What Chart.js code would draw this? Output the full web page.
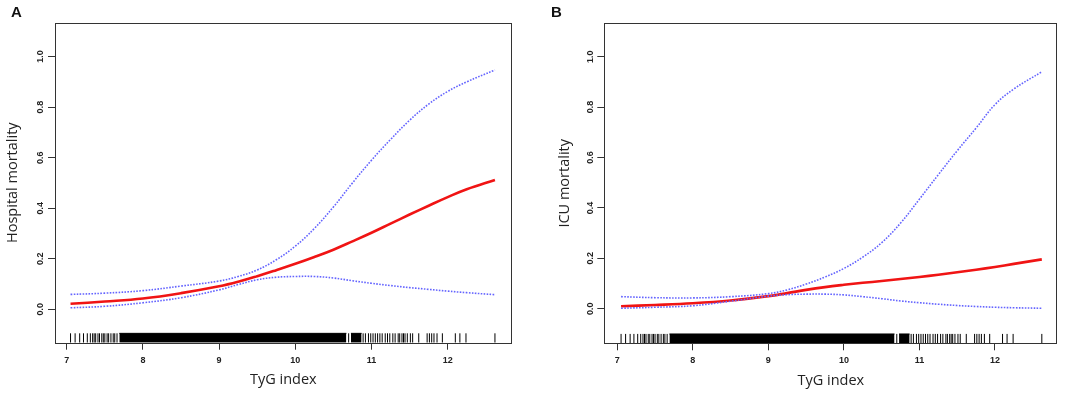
<!DOCTYPE html>
<html>
<head>
<meta charset="utf-8">
<script src="https://cdn.jsdelivr.net/npm/chart.js@4.4.1/dist/chart.umd.min.js"></script>
<style>
html,body{margin:0;padding:0;background:#fff;width:1084px;height:394px;overflow:hidden;}
.panel{position:absolute;top:0;width:542px;height:394px;}
.lab{position:absolute;font:bold 15px "Liberation Sans",Arial,sans-serif;line-height:1;color:#111;}
</style>
</head>
<body>
<div class="panel" style="left:0"><canvas id="cA" width="542" height="394"></canvas></div>
<div class="panel" style="left:542px"><canvas id="cB" width="542" height="394"></canvas></div>
<div class="lab" style="left:11px;top:4px">A</div>
<div class="lab" style="left:551px;top:4px">B</div>
<script>
// ---- data ----
const tygGrid   = [7.05, 7.5, 8, 8.5, 9, 9.25, 9.5, 9.75, 10, 10.25, 10.5, 10.75, 11, 11.25, 11.5, 11.75, 12, 12.25, 12.62];
const hospFit   = [0.022,0.031,0.043,0.064,0.091,0.109,0.131,0.155,0.180,0.207,0.236,0.269,0.303,0.339,0.375,0.410,0.444,0.475,0.512];
const hospUpper = [0.059,0.064,0.074,0.092,0.112,0.130,0.156,0.196,0.250,0.320,0.405,0.500,0.590,0.672,0.748,0.812,0.862,0.900,0.947];
const hospLower = [0.006,0.012,0.026,0.046,0.077,0.098,0.117,0.127,0.130,0.130,0.124,0.113,0.103,0.094,0.086,0.079,0.072,0.066,0.058];
const icuFit    = [0.010,0.015,0.022,0.033,0.050,0.062,0.075,0.086,0.095,0.103,0.110,0.118,0.126,0.135,0.145,0.155,0.166,0.178,0.196];
const icuUpper  = [0.048,0.044,0.043,0.048,0.060,0.075,0.098,0.126,0.160,0.205,0.262,0.340,0.435,0.532,0.627,0.717,0.810,0.872,0.940];
const icuLower  = [0.002,0.006,0.012,0.030,0.050,0.056,0.058,0.058,0.055,0.048,0.040,0.031,0.024,0.018,0.013,0.009,0.006,0.004,0.002];
// rug: individual observed TyG values and densely-packed stretches
const rugTicks  = [7.05,7.11,7.17,7.22,7.27,7.31,7.34,7.36,7.38,7.41,7.43,7.46,7.48,7.50,7.53,7.55,7.58,7.61,7.63,7.66,
                   10.70,10.89,10.92,10.96,10.99,11.02,11.05,11.08,11.11,11.14,11.18,11.21,11.24,11.28,11.31,
                   11.35,11.37,11.40,11.42,11.44,11.47,11.51,11.54,11.62,11.73,11.76,11.79,11.82,11.86,11.93,
                   12.10,12.16,12.24,12.62];
const rugDense  = [[7.69,10.67],[10.73,10.87]];
const xTicks = [7, 8, 9, 10, 11, 12];
const yTicks = [0, 0.2, 0.4, 0.6, 0.8, 1.0];
const xTitle = 'TyG index';
const yTitleA = 'Hospital mortality';
const yTitleB = 'ICU mortality';

function pts(xs, ys){ return xs.map((x,i)=>({x:x, y:ys[i]})); }

const boxPlugin = {
  id:'rbox',
  afterDraw(chart){
    const a = chart.chartArea, ctx = chart.ctx;
    ctx.save();
    ctx.strokeStyle = '#333'; ctx.lineWidth = 1;
    ctx.strokeRect(Math.round(a.left)+0.5, Math.round(a.top)+0.5, Math.round(a.right-a.left)-1, Math.round(a.bottom-a.top));
    // rotated y tick labels (R style)
    const ys = chart.scales.y;
    ctx.fillStyle = '#222';
    ctx.font = 'bold 9px "Liberation Sans", Arial, sans-serif';
    ctx.textAlign = 'center'; ctx.textBaseline = 'middle';
    yTicks.forEach(v=>{
      const py = ys.getPixelForValue(v);
      ctx.save();
      ctx.translate(a.left - 14, py);
      ctx.rotate(-Math.PI/2);
      ctx.fillText(v.toFixed(1), 0, 0);
      ctx.restore();
    });
    ctx.restore();
  }
};

function makePanel(id, fit, up, lo, yTitle, L){
  const rugCenter = L.yMin + 0.0186;
  const rugTop = L.yMin + 0.037;
  const datasets = [];
  rugDense.forEach(seg=>{
    datasets.push({type:'line', data:[{x:seg[0],y:rugTop},{x:seg[1],y:rugTop}], fill:'start',
      backgroundColor:'#000', borderColor:'#000', borderWidth:1, pointRadius:0, tension:0});
  });
  datasets.push({type:'scatter', data: rugTicks.map(x=>({x:x, y:rugCenter})),
    pointStyle:'line', pointRotation:90, rotation:90, pointRadius:4.7, radius:4.7,
    borderColor:'#000', pointBorderColor:'#000', borderWidth:1, pointBorderWidth:1, showLine:false});
  const blue = {type:'line', borderColor:'#6464ff', borderWidth:1.6, borderDash:[1.6,1.4],
    pointRadius:0, fill:false, tension:0.4};
  datasets.push(Object.assign({data:pts(tygGrid, lo)}, blue));
  datasets.push(Object.assign({data:pts(tygGrid, up)}, blue));
  datasets.push({type:'line', data:pts(tygGrid, fit), borderColor:'#f01414', borderWidth:2.6,
    pointRadius:0, fill:false, tension:0.4});

  const grid = {drawOnChartArea:false, drawTicks:true, tickLength:7, color:'#333', lineWidth:1};
  new Chart(document.getElementById(id), {
    type:'scatter',
    data:{datasets:datasets},
    options:{
      responsive:false, animation:false, devicePixelRatio:1,
      layout:{padding:{left:0, right:L.padR, top:L.padT, bottom:0}},
      plugins:{legend:{display:false}, tooltip:{enabled:false}},
      scales:{
        x:{type:'linear', min:L.xMin, max:L.xMax,
           afterBuildTicks:s=>{s.ticks = xTicks.map(v=>({value:v}));},
           afterFit:s=>{s.height = L.xH;},
           grid:grid, border:{display:false},
           ticks:{font:{family:'"Liberation Sans", Arial, sans-serif', size:9, weight:'bold'}, color:'#222',
                  padding:5, maxRotation:0, minRotation:0, autoSkip:false, callback:v=>String(v)},
           title:{display:true, text:xTitle, color:'#222',
                  font:{family:'"Open Sans", sans-serif', size:14.5}, padding:{top:0, bottom:L.xTitlePad}}
        },
        y:{type:'linear', min:L.yMin, max:L.yMax,
           afterBuildTicks:s=>{s.ticks = yTicks.map(v=>({value:v}));},
           afterFit:s=>{s.width = L.yW;},
           grid:grid, border:{display:false},
           ticks:{display:false},
           title:{display:true, text:yTitle, color:'#222',
                  font:{family:'"Open Sans", sans-serif', size:14.5}, padding:{top:L.yTitlePad, bottom:0}}
        }
      }
    },
    plugins:[boxPlugin]
  });
}

makePanel('cA', hospFit, hospUpper, hospLower, yTitleA,
  {xMin:6.846, xMax:12.84, yMin:-0.132, yMax:1.134, padR:30.3, padT:22.7, xH:51.3, yW:55, yTitlePad:3.7, xTitlePad:5.3});
makePanel('cB', icuFit, icuUpper, icuLower, yTitleB,
  {xMin:6.828, xMax:12.825, yMin:-0.137, yMax:1.1325, padR:26.7, padT:23.3, xH:50.7, yW:62.3, yTitlePad:14.3, xTitlePad:4.3});
</script>
</body>
</html>
